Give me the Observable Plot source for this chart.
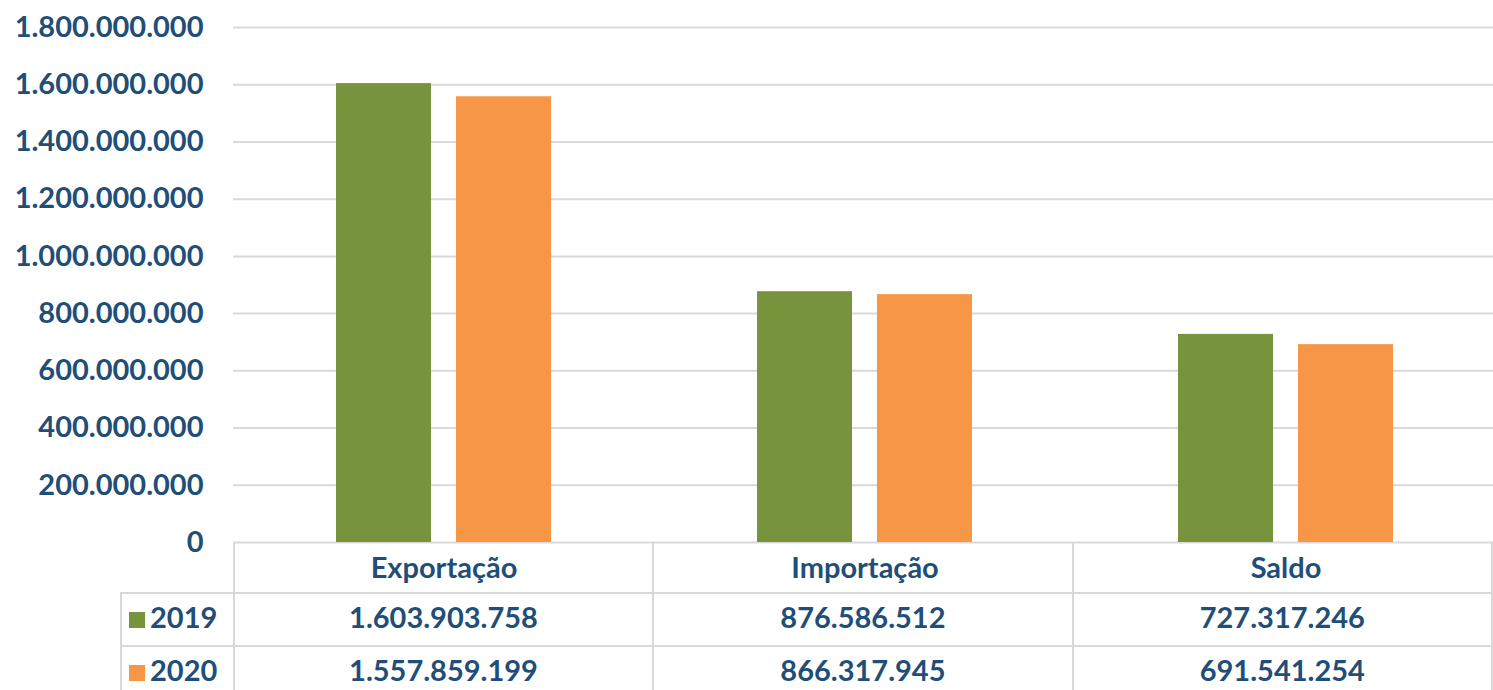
<!DOCTYPE html>
<html>
<head>
<meta charset="utf-8">
<script src="https://cdn.jsdelivr.net/npm/d3@7"></script>
<script src="https://cdn.jsdelivr.net/npm/@observablehq/plot@0.6"></script>
<style>
  html, body { margin: 0; padding: 0; background: #fff; }
  #wrap { position: relative; width: 1493px; height: 690px; overflow: hidden; font-family: Lato, sans-serif; font-weight: bold; color: #1f4e79; }
  #chart { position: absolute; left: 0; top: 0; }
  #tbl { position: absolute; left: 120px; top: 542px; border-collapse: collapse; table-layout: fixed; }
  #tbl td { padding: 0 0 6px 0; font-size: 29px; text-align: center; line-height: 1; }
  #tbl tr.head td { height: 44px; }
  #tbl tr.row td { height: 45px; border-top: 2px solid #d9d9d9; border-left: 2px solid #d9d9d9; border-right: 2px solid #d9d9d9; }
  #tbl tr.head td.c { border-left: 2px solid #d9d9d9; border-right: 2px solid #d9d9d9; }
  #tbl td.lab { text-align: left; padding-left: 7px; }
  .sw { display: inline-block; width: 16px; height: 16px; margin-right: 5px; vertical-align: 0px; }
</style>
</head>
<body>
<div id="wrap"><div id="chart"></div></div>
<script>
const categories = ["Exportação", "Importação", "Saldo"];
const years = ["2019", "2020"];
const values2019 = [1603903758, 876586512, 727317246];
const values2020 = [1557859199, 866317945, 691541254];
const yTicks = [0, 200000000, 400000000, 600000000, 800000000, 1000000000, 1200000000, 1400000000, 1600000000, 1800000000];
const colors = ["#77933C", "#F79646"];

const data = [];
categories.forEach((c, i) => {
  data.push({cat: c, year: years[0], value: values2019[i]});
  data.push({cat: c, year: years[1], value: values2020[i]});
});

const loc = d3.formatLocale({decimal: ",", thousands: ".", grouping: [3], currency: ["", ""]});
const fmt = loc.format(",d");

const plot = Plot.plot({
  width: 1493,
  height: 592,
  marginLeft: 233,
  marginRight: -3,
  marginTop: 27,
  marginBottom: 50,
  style: {fontFamily: "Lato, sans-serif", fontSize: "29px", fontWeight: "bold", color: "#1f4e79", background: "transparent", overflow: "visible"},
  fx: {domain: categories, padding: 0, axis: "bottom", tickSize: 0, tickPadding: 15, label: null},
  x: {domain: years, paddingInner: 0.208, paddingOuter: 0.858, axis: null},
  y: {domain: [0, 1800000000], ticks: yTicks, tickFormat: fmt, tickSize: 0, tickPadding: 30, label: null, grid: false},
  color: {domain: years, range: colors},
  facet: {data: data, x: "cat"},
  marks: [
    Plot.ruleY(yTicks, {stroke: "#d9d9d9", strokeWidth: 2}),
    Plot.barY(data, {x: "year", y: "value", fill: "year"})
  ]
});
document.getElementById("chart").appendChild(plot);

// data table (legend + values) below the chart
const tbl = document.createElement("table");
tbl.id = "tbl";
const cg = document.createElement("colgroup");
[113, 421, 421, 421].forEach(w => { const c = document.createElement("col"); c.style.width = w + "px"; cg.appendChild(c); });
tbl.appendChild(cg);
const head = document.createElement("tr");
head.className = "head";
head.appendChild(document.createElement("td"));
categories.forEach(() => { const td = document.createElement("td"); td.className = "c"; head.appendChild(td); });
tbl.appendChild(head);
[values2019, values2020].forEach((vals, k) => {
  const tr = document.createElement("tr");
  tr.className = "row";
  const lab = document.createElement("td");
  lab.className = "lab";
  lab.innerHTML = `<span class="sw" style="background:${colors[k]}"></span>${years[k]}`;
  tr.appendChild(lab);
  vals.forEach(v => { const td = document.createElement("td"); td.textContent = fmt(v); tr.appendChild(td); });
  tbl.appendChild(tr);
});
document.getElementById("wrap").appendChild(tbl);
</script>
</body>
</html>
